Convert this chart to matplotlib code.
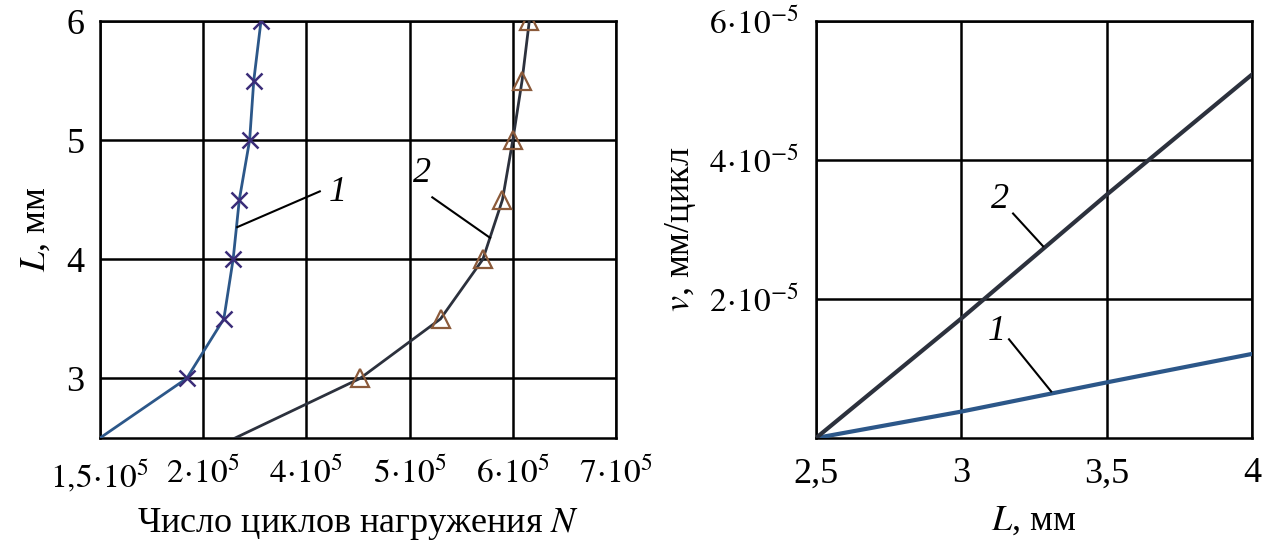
import matplotlib
matplotlib.use("Agg")
import matplotlib.pyplot as plt

plt.rcParams['font.family'] = ['Liberation Serif', 'DejaVu Serif']
plt.rcParams['mathtext.fontset'] = 'stix'

# ---- Left chart data (x in grid units, ticks equally spaced) ----
left_xtick_pos = [0, 1, 2, 3, 4, 5]
left_xtick_labels = [r'$1{,}5\!\cdot\!10^{5}$', r'$2\!\cdot\!10^{5}$', r'$4\!\cdot\!10^{5}$',
                     r'$5\!\cdot\!10^{5}$', r'$6\!\cdot\!10^{5}$', r'$7\!\cdot\!10^{5}$']
left_yticks = [3, 4, 5, 6]

L_curve = [2.5, 3.0, 3.5, 4.0, 4.5, 5.0, 5.5, 6.0]
N_curve1 = [0.00, 0.84, 1.20, 1.29, 1.35, 1.45, 1.49, 1.56]
N_curve2 = [1.31, 2.52, 3.30, 3.71, 3.90, 4.00, 4.09, 4.16]

L_marks = [3.0, 3.5, 4.0, 4.5, 5.0, 5.5, 6.0]
N_marks1 = [0.84, 1.20, 1.29, 1.35, 1.45, 1.49, 1.56]
N_marks2 = [2.52, 3.30, 3.71, 3.90, 4.00, 4.09, 4.16]

# ---- Right chart data ----
L_right = [2.5, 3.0, 3.5, 4.0]
v_line1 = [0.0, 0.38e-5, 0.80e-5, 1.21e-5]
v_line2 = [0.0, 1.72e-5, 3.50e-5, 5.23e-5]
right_xticks = [2.5, 3.0, 3.5, 4.0]
right_xtick_labels = ['2,5', '3', '3,5', '4']
right_yticks = [2e-5, 4e-5, 6e-5]
right_ytick_labels = [r'$2\!\cdot\!10^{-5}$', r'$4\!\cdot\!10^{-5}$', r'$6\!\cdot\!10^{-5}$']

W, H = 1266, 546
fig = plt.figure(figsize=(W / 100, H / 100), dpi=100)

def px_axes(l, r, t, b):
    return fig.add_axes([l / W, 1 - b / H, (r - l) / W, (b - t) / H])

blue = '#2c5789'
dark = '#2c313d'
cross_c = '#3a2c78'
tri_c = '#8b5a3a'
fs = 26
fs_math = 24

# ---------- Left ----------
ax1 = px_axes(100, 616, 21, 438)
ax1.set_xlim(0, 5)
ax1.set_ylim(2.5, 6)
ax1.plot(N_curve1, L_curve, color=blue, lw=2.0, zorder=3)
ax1.plot(N_marks1, L_marks, linestyle='none', marker='x', ms=11, mew=1.8, color=cross_c, zorder=4)
ax1.plot(N_curve2, L_curve, color=dark, lw=2.0, zorder=3)
ax1.plot(N_marks2, L_marks, linestyle='none', marker='^', ms=13, mew=1.6, mfc='none', mec=tri_c, zorder=4)
ax1.set_xticks(left_xtick_pos)
ax1.set_xticklabels(left_xtick_labels, fontsize=fs_math)
ax1.set_yticks(left_yticks)
ax1.set_yticklabels([str(v) for v in left_yticks], fontsize=fs)
ax1.grid(True, color='black', lw=1.8)
ax1.tick_params(length=0)
ax1.tick_params(axis='x', pad=14)
ax1.tick_params(axis='y', pad=11)
ax1.set_xlabel(r'Число циклов нагружения $N$', fontsize=fs, labelpad=8)
ax1.set_ylabel(r'$L$, мм', fontsize=fs, labelpad=10)
for s in ax1.spines.values():
    s.set_linewidth(1.8)
ax1.plot([2.13, 1.33], [4.57, 4.27], color='black', lw=1.5, zorder=5)
ax1.text(2.30, 4.56, '1', fontsize=fs, fontstyle='italic', ha='center', va='center')
ax1.plot([3.22, 3.78], [4.52, 4.18], color='black', lw=1.5, zorder=5)
ax1.text(3.12, 4.72, '2', fontsize=fs, fontstyle='italic', ha='center', va='center')

# ---------- Right ----------
ax2 = px_axes(816, 1252, 21, 438)
ax2.set_xlim(2.5, 4.0)
ax2.set_ylim(0, 6.0e-5)
ax2.plot(L_right, v_line1, color=blue, lw=3.0, zorder=3)
ax2.plot(L_right, v_line2, color=dark, lw=3.0, zorder=3)
ax2.set_xticks(right_xticks)
ax2.set_xticklabels(right_xtick_labels, fontsize=fs)
ax2.set_yticks(right_yticks)
ax2.set_yticklabels(right_ytick_labels, fontsize=fs_math)
ax2.grid(True, color='black', lw=1.8)
ax2.tick_params(length=0)
ax2.tick_params(axis='x', pad=14)
ax2.tick_params(axis='y', pad=12)
ax2.set_xlabel(r'$L$, мм', fontsize=fs, labelpad=10)
ax2.set_ylabel(r'$v$, мм/цикл', fontsize=fs, labelpad=8)
for s in ax2.spines.values():
    s.set_linewidth(1.8)
ax2.plot([3.178, 3.281], [3.23e-5, 2.76e-5], color='black', lw=1.5, zorder=5)
ax2.text(3.133, 3.43e-5, '2', fontsize=fs, fontstyle='italic', ha='center', va='center')
ax2.plot([3.164, 3.309], [1.42e-5, 0.67e-5], color='black', lw=1.5, zorder=5)
ax2.text(3.123, 1.53e-5, '1', fontsize=fs, fontstyle='italic', ha='center', va='center')

fig.savefig('out.png', dpi=100)
